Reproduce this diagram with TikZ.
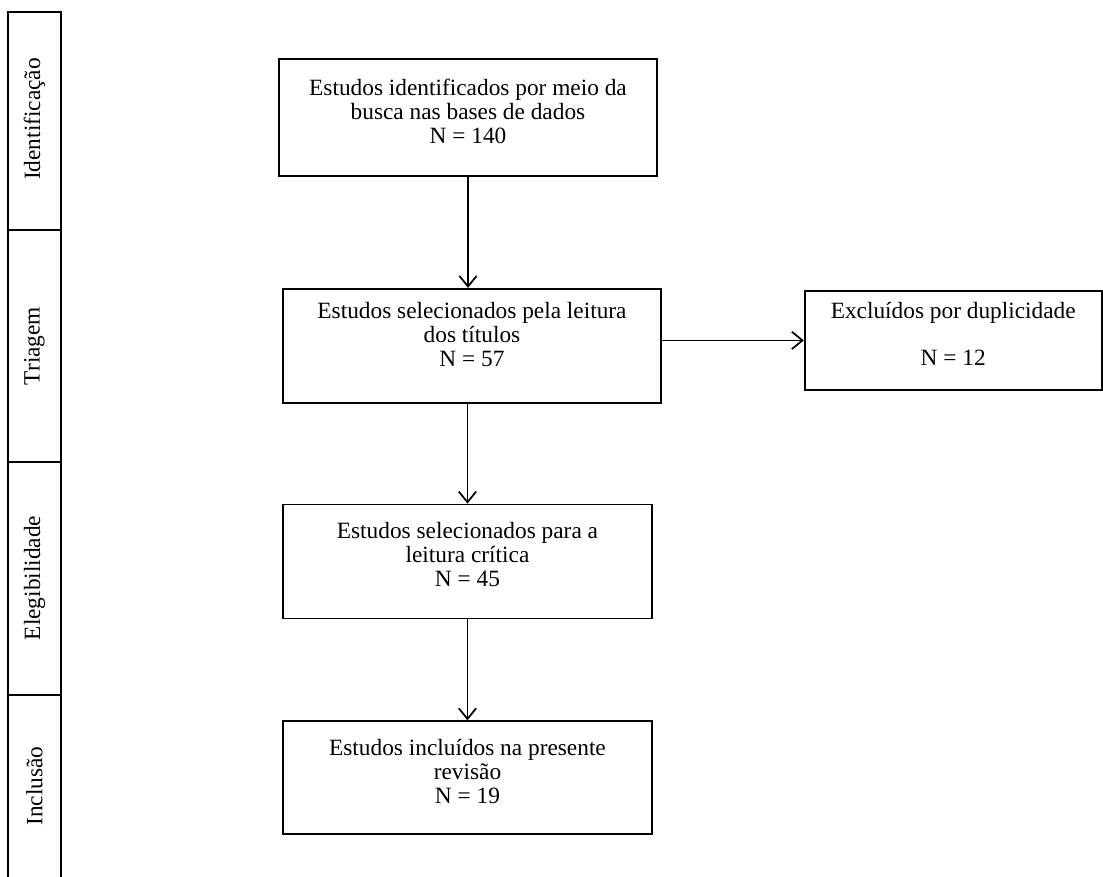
\documentclass[tikz,border=0pt]{standalone}
\usepackage{fontspec}
\setmainfont{Liberation Serif}
\usetikzlibrary{arrows.meta,positioning}

\begin{document}
\begin{tikzpicture}[x=0.75pt, y=-0.75pt, >={Straight Barb[length=8pt,width=13pt]}, line width=1.3pt,
    etapa/.style={rectangle, draw, align=center, inner sep=2pt, text depth=10pt, font=\fontsize{17.5}{18}\selectfont},
    fase/.style={rotate=90, font=\fontsize{17.5}{18}\selectfont}]
    \useasboundingbox (0,0) rectangle (1103,877);

    % Fases
    \draw (8,12) rectangle (61,230);
    \draw (8,230) rectangle (61,462);
    \draw (8,462) rectangle (61,695);
    \draw (8,695) -- (8,880) (61,695) -- (61,880);
    \node (fase_ident) [fase] at (34.5,119) {Identificação};
    \node (fase_triagem) [fase] at (34.5,346) {Triagem};
    \node (fase_eleg) [fase] at (34.5,578) {Elegibilidade};
    \node (fase_incl) [fase] at (34.5,786) {Inclusão};

    % Etapas
    \node (identificados) [etapa, minimum width=283.5pt, minimum height=87.75pt] at (468,117.5) {Estudos identificados por meio da\\busca nas bases de dados\\N = 140};
    \node (selecionados) [etapa, text depth=17pt, minimum width=283.5pt, minimum height=85.5pt, below=83.25pt of identificados, xshift=3pt] {Estudos selecionados pela leitura\\dos títulos\\N = 57};
    \node (excluidos) [etapa, minimum width=222.75pt, minimum height=74.25pt, right=106.5pt of selecionados, yshift=4pt] {Excluídos por duplicidade\\[17pt]N = 12};
    \node (leitura) [etapa, minimum width=276.75pt, minimum height=85.5pt, below=75pt of selecionados, xshift=-3.4pt] {Estudos selecionados para a\\leitura crítica\\N = 45};
    \node (incluidos) [etapa, minimum width=276.75pt, minimum height=84.75pt, below=75.75pt of leitura] {Estudos incluídos na presente\\revisão\\N = 19};

    % Setas
    \draw[->] (identificados.south) -- (identificados.south |- selecionados.north);
    \draw[->] (selecionados.south -| leitura) -- (leitura.north);
    \draw[->] (leitura.south) -- (incluidos.north);
    \draw[->] (selecionados.east |- excluidos) -- (excluidos.west);
\end{tikzpicture}
\end{document}
